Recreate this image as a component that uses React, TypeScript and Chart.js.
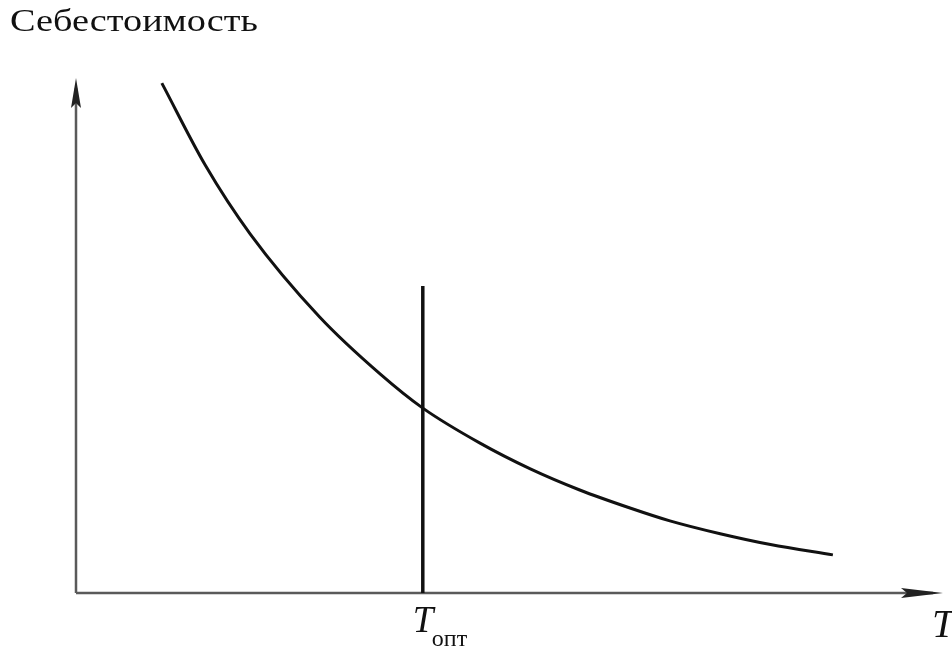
import React, { useEffect, useRef } from "react";
import { Chart, registerables } from "chart.js";

Chart.register(...registerables);

// Cost curve (relative units)
const curveX = [9.9, 14.9, 20.1, 28.1, 35.1, 40.0, 46.6, 52.4, 58.1, 63.9, 68.5, 74.3, 80.1, 87.3];
const curveY = [99.0, 83.1, 69.7, 53.6, 42.5, 35.9, 29.1, 24.1, 20.0, 16.5, 14.0, 11.5, 9.4, 7.4];
// Optimal period marker
const optX = 40.0;
const optTop = 59.6;
const yTitle = "Себестоимость";
const xTitle = "T";
const optLabel = "T";
const optSub = "опт";

const SERIF = '"Liberation Serif", "Times New Roman", Times, serif';

const axesPlugin = {
  id: "axesArrows",
  beforeDatasetsDraw(chart: any) {
    const { ctx, scales } = chart;
    const x0 = scales.x.getPixelForValue(0);
    const y0 = scales.y.getPixelForValue(0);
    const xEnd = scales.x.getPixelForValue(100);
    const yEnd = scales.y.getPixelForValue(100);
    ctx.save();
    ctx.strokeStyle = "#5a5a5a";
    ctx.fillStyle = "#222";
    ctx.lineWidth = 2.5;
    ctx.beginPath();
    ctx.moveTo(x0, y0);
    ctx.lineTo(x0, yEnd + 10);
    ctx.moveTo(x0, y0);
    ctx.lineTo(xEnd - 10, y0);
    ctx.stroke();
    // y arrow
    ctx.beginPath();
    ctx.moveTo(x0, yEnd);
    ctx.lineTo(x0 + 5, yEnd + 30);
    ctx.lineTo(x0, yEnd + 25);
    ctx.lineTo(x0 - 5, yEnd + 30);
    ctx.closePath();
    ctx.fill();
    // x arrow
    ctx.beginPath();
    ctx.moveTo(xEnd, y0);
    ctx.lineTo(xEnd - 42, y0 - 5);
    ctx.lineTo(xEnd - 36, y0);
    ctx.lineTo(xEnd - 42, y0 + 5);
    ctx.closePath();
    ctx.fill();
    ctx.restore();
  },
  afterDraw(chart: any) {
    const { ctx, scales } = chart;
    ctx.save();
    ctx.fillStyle = "#111";
    ctx.textBaseline = "alphabetic";
    ctx.textAlign = "left";
    // y title, slightly stretched to match
    ctx.font = "32px " + SERIF;
    const w = ctx.measureText(yTitle).width;
    ctx.save();
    ctx.translate(10, 31);
    ctx.scale(248 / w, 1);
    ctx.fillText(yTitle, 0, 0);
    ctx.restore();
    // T_opt
    const xo = scales.x.getPixelForValue(optX);
    ctx.font = "italic 37px " + SERIF;
    ctx.fillText(optLabel, xo - 10, 632);
    ctx.font = "24px " + SERIF;
    ctx.fillText(optSub, xo + 9, 646);
    // T at x axis end
    ctx.font = "italic 40px " + SERIF;
    ctx.fillText(xTitle, 932, 637);
    ctx.restore();
  },
};

export default function App() {
  const ref = useRef<HTMLCanvasElement>(null);
  useEffect(() => {
    if (!ref.current) return;
    let chart: any = null;
    let cancelled = false;
    const make = () => {
      if (cancelled || !ref.current) return;
      chart = new Chart(ref.current, {
        type: "line",
        data: {
          datasets: [
            {
              data: curveX.map((x, i) => ({ x, y: curveY[i] })),
              borderColor: "#111",
              borderWidth: 3,
              pointRadius: 0,
              cubicInterpolationMode: "monotone",
              fill: false,
            },
            {
              data: [
                { x: optX, y: 0 },
                { x: optX, y: optTop },
              ],
              borderColor: "#111",
              borderWidth: 3.5,
              pointRadius: 0,
              fill: false,
            },
          ],
        },
        options: {
          animation: false,
          responsive: false,
          devicePixelRatio: 1,
          layout: { padding: { left: 76, right: 9, top: 78, bottom: 60 } },
          plugins: { legend: { display: false }, tooltip: { enabled: false } },
          scales: {
            x: { type: "linear", min: 0, max: 100, display: false },
            y: { type: "linear", min: 0, max: 100, display: false },
          },
        },
        plugins: [axesPlugin],
      });
    };
    const fonts = (document as any).fonts;
    if (fonts && fonts.load) {
      Promise.all([
        fonts.load("32px " + SERIF, yTitle),
        fonts.load("italic 37px " + SERIF, "T"),
      ])
        .catch(() => null)
        .then(make);
    } else {
      make();
    }
    return () => {
      cancelled = true;
      if (chart) chart.destroy();
    };
  }, []);
  return (
    <div style={{ position: "absolute", left: 0, top: 0, width: 952, height: 653, background: "#fff" }}>
      <canvas ref={ref} width={952} height={653} />
    </div>
  );
}
